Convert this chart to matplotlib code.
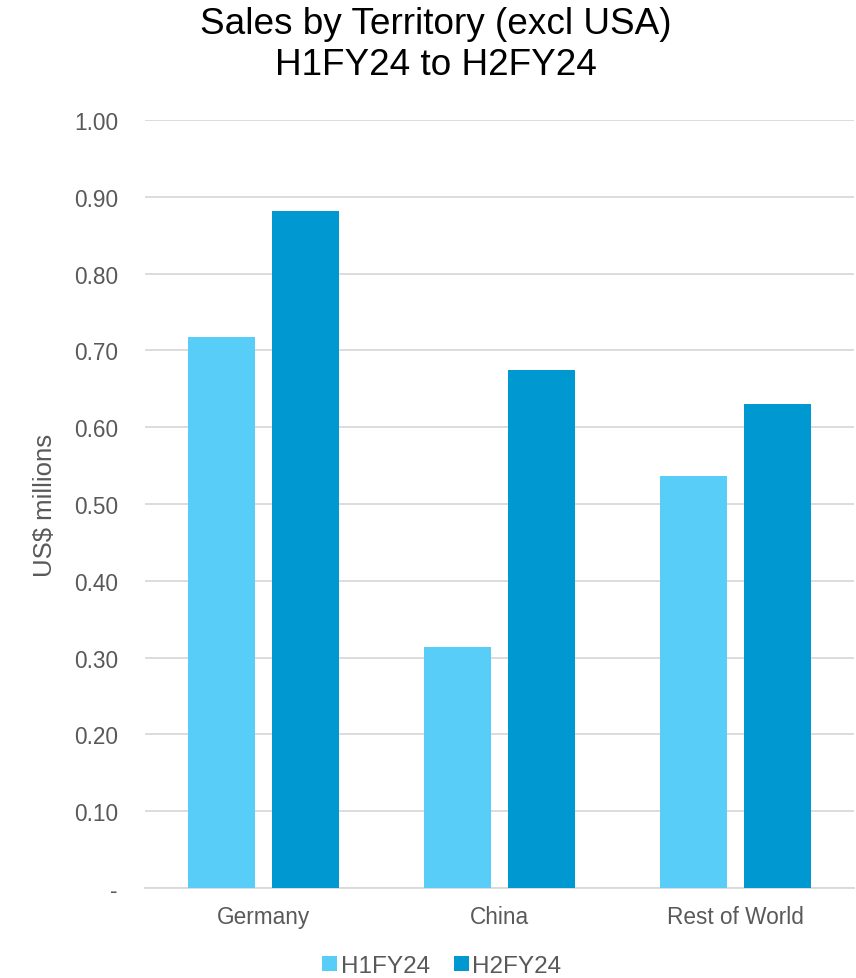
import matplotlib
matplotlib.use("Agg")
import matplotlib.pyplot as plt
import numpy as np

plt.rcParams['font.family'] = ['Liberation Sans', 'DejaVu Sans']

categories = ["Germany", "China", "Rest of World"]
series_names = ["H1FY24", "H2FY24"]
h1 = [0.718, 0.314, 0.536]
h2 = [0.881, 0.675, 0.630]
yticks = [0.0, 0.1, 0.2, 0.3, 0.4, 0.5, 0.6, 0.7, 0.8, 0.9, 1.0]
ytick_labels = ["-", "0.10", "0.20", "0.30", "0.40", "0.50", "0.60", "0.70", "0.80", "0.90", "1.00"]

c1 = "#58CDF7"
c2 = "#0098D0"
txt = "#595959"

fig = plt.figure(figsize=(8.56, 9.79), dpi=100)
W, H = 856, 979
ax = fig.add_axes([145 / W, 1 - 889 / H, (854 - 145) / W, (889 - 121) / H])

x = np.arange(len(categories))
w = 0.283
off = 0.178
ax.bar(x - off, h1, w, color=c1, label=series_names[0], zorder=3)
ax.bar(x + off, h2, w, color=c2, label=series_names[1], zorder=3)

ax.set_xlim(-0.5, 2.5)
ax.set_ylim(0, 1.0)
ax.set_yticks(yticks)
ax.set_yticklabels(ytick_labels)
ax.set_xticks(x)
ax.set_xticklabels(categories)
ax.tick_params(axis='both', length=0, labelsize=16.3, colors=txt)
ax.tick_params(axis='y', pad=19.5)
ax.tick_params(axis='x', pad=12)
ax.grid(axis='y', color='#D9D9D9', linewidth=1.3, zorder=0)
for s in ["top", "right", "left"]:
    ax.spines[s].set_visible(False)
ax.spines["bottom"].set_color('#D9D9D9')
ax.spines["bottom"].set_linewidth(1.3)

ax.set_ylabel("US$ millions", fontsize=18.5, color=txt, labelpad=12)

fig.text(436 / W, 1 - 45 / H, "Sales by Territory (excl USA)\nH1FY24 to H2FY24",
         ha='center', va='center', fontsize=26.6, color='black', linespacing=1.25)

fig.legend(loc='center', bbox_to_anchor=(442 / W, 1 - 967 / H), ncol=2, frameon=False,
           fontsize=17.5, labelcolor=txt, handlelength=0.6, handleheight=0.6,
           handletextpad=0.15, columnspacing=1.0)

fig.savefig("out.png", dpi=100)
